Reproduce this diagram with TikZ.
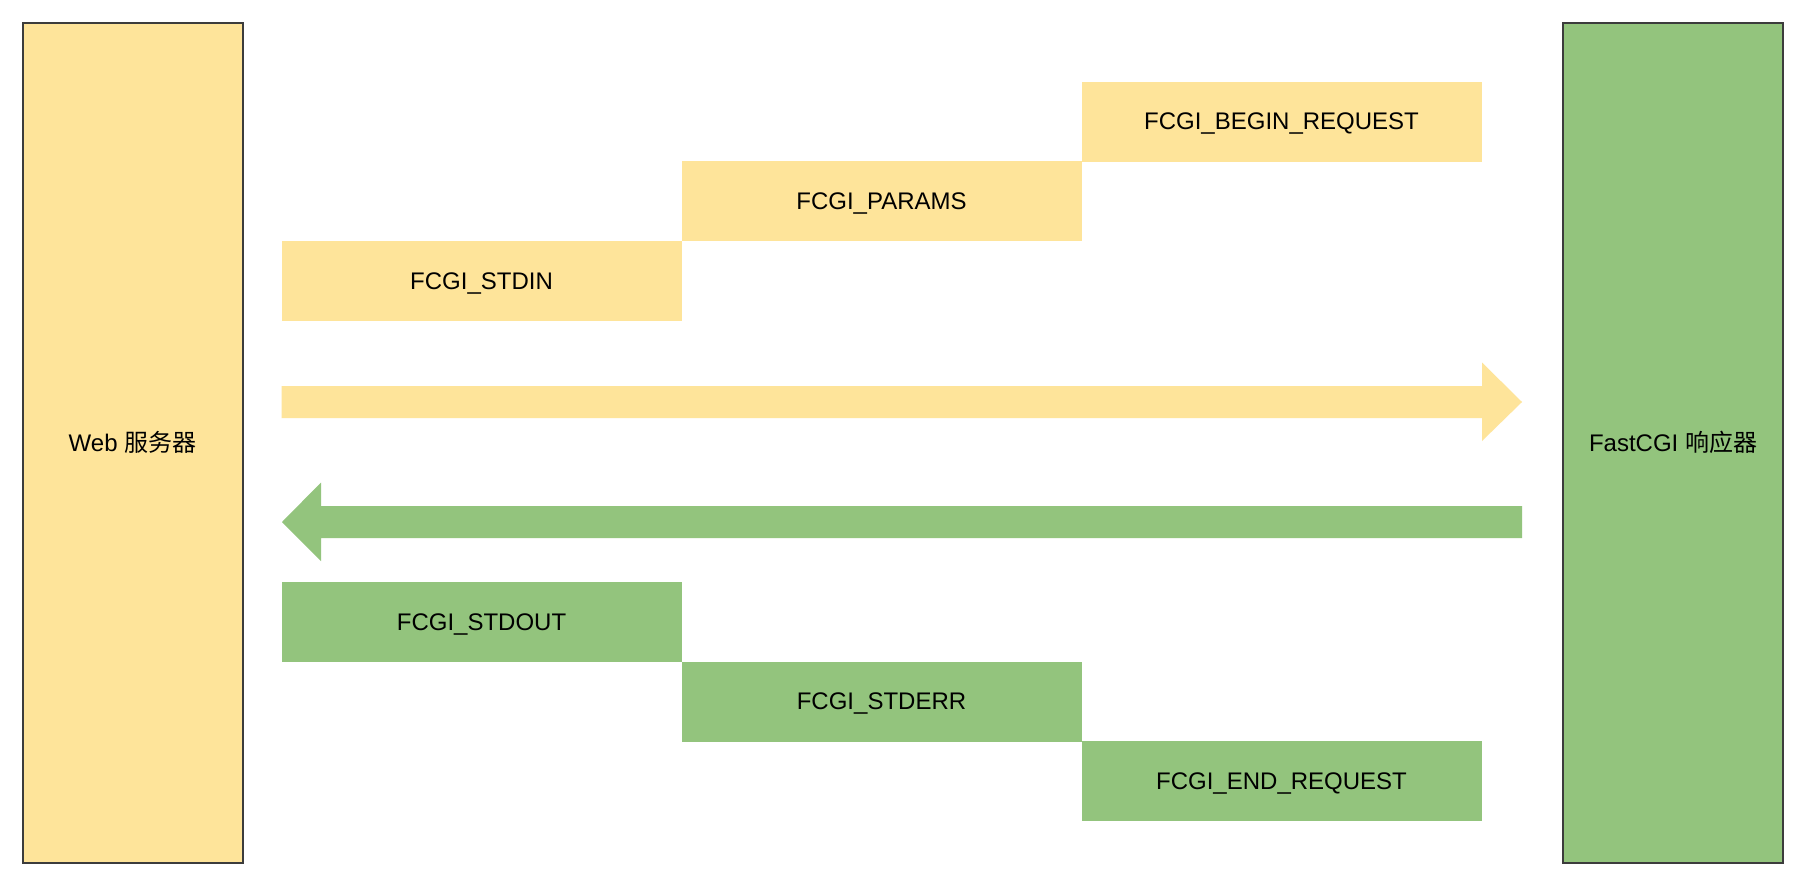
\documentclass[tikz,border=0pt]{standalone}
\usepackage{fontspec}
\setmainfont{Liberation Sans}
\newfontfamily\cjk{Noto Sans CJK SC}
\definecolor{ylw}{HTML}{FEE49A}
\definecolor{grn}{HTML}{93C47D}
\definecolor{brd}{HTML}{3C3C3C}
\begin{document}
\begin{tikzpicture}[x=1pt,y=-1pt,
  side/.style={draw=brd,line width=2pt,minimum width=220pt,minimum height=840pt,inner sep=0pt,font=\fontsize{24}{28}\selectfont},
  rec/.style={minimum width=400pt,minimum height=80pt,inner sep=0pt,text depth=0pt,font=\fontsize{24}{28}\selectfont}]
\useasboundingbox (0,0) rectangle (1810,886);
\fill[white] (0,0) rectangle (1810,886);
\node[side,fill=ylw] (web) at (132.5,442.5) {Web {\cjk 服务器}};
\node[side,fill=grn] (fcgi) at (1673,442.5) {FastCGI {\cjk 响应器}};
\node[rec,fill=ylw] (begin) at (1281.5,121.5) {FCGI\_BEGIN\_REQUEST};
\node[rec,fill=ylw] (params) at (881.5,201) {FCGI\_PARAMS};
\node[rec,fill=ylw] (stdin) at (481.5,281) {FCGI\_STDIN};
\node[rec,fill=grn] (stdout) at (481.5,622) {FCGI\_STDOUT};
\node[rec,fill=grn] (stderr) at (881.5,701.5) {FCGI\_STDERR};
\node[rec,fill=grn] (endreq) at (1281.5,781) {FCGI\_END\_REQUEST};
\fill[ylw] (281.5,386) -- (1482,386) -- (1482,362.5) -- (1522,402) -- (1482,441) -- (1482,418) -- (281.5,418) -- cycle;
\fill[grn] (1522,506) -- (321,506) -- (321,482.5) -- (282,522) -- (321,561) -- (321,538) -- (1522,538) -- cycle;
\end{tikzpicture}
\end{document}
